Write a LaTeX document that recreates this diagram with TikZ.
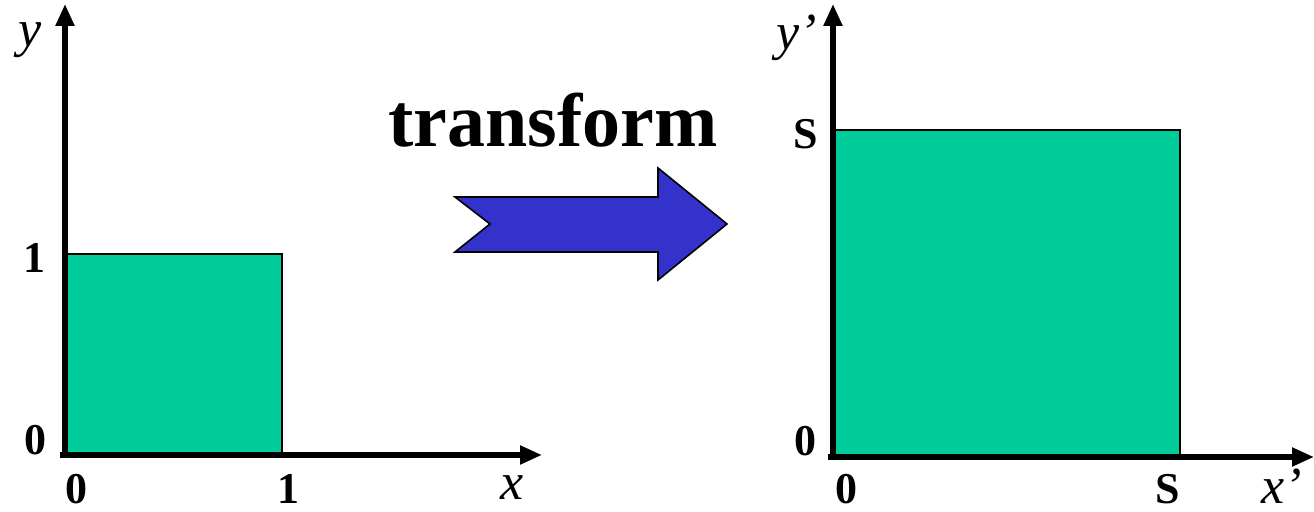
\documentclass[tikz,border=0pt]{standalone}
\usepackage{fontspec}
\setmainfont{Liberation Serif}
\usetikzlibrary{arrows.meta}
\definecolor{sqgreen}{HTML}{00CC99}
\definecolor{arrowblue}{HTML}{3333CC}

\begin{document}
\begin{tikzpicture}[x=0.5pt,y=-0.5pt,
  axis/.style={line width=2.6pt,-{Triangle[length=11pt,width=9pt]}},
  num/.style={font=\fontsize{22}{22}\selectfont\bfseries,inner sep=0pt},
  var/.style={font=\fontsize{26}{26}\selectfont\itshape,inner sep=0pt}]
  \useasboundingbox (0,0) rectangle (1314,512);
  % left: unit square
  \coordinate (o1) at (65,455);
  \coordinate (ya) at (65,4);
  \coordinate (xa) at (542,455);
  \fill[sqgreen,draw=black,line width=0.6pt] (65,254) rectangle (282,455);
  \draw[axis] (60,455) -- (xa);
  \draw[axis] (o1) -- (ya);
  \node[var] (ly) at (30,40) {y};
  \node[num] (l1) at (35,258) {1};
  \node[num] (l0) at (36,440) {0};
  \node[num] (b0) at (76,489) {0};
  \node[num] (b1) at (288,489) {1};
  \node[var] (lx) at (512,488) {x};
  % middle: transform arrow
  \node[font=\fontsize{38}{38}\selectfont\bfseries,inner sep=0pt] (tr) at (553,120) {transform};
  \filldraw[fill=arrowblue,line width=0.8pt,line join=miter]
    (455,197) -- (658,197) -- (658,168) -- (727,224) -- (658,280) -- (658,252)
    -- (455,252) -- (490,224) -- cycle;
  % right: scaled square
  \coordinate (o2) at (833,457);
  \coordinate (yb) at (833,4);
  \coordinate (xb) at (1314,457);
  \fill[sqgreen,draw=black,line width=0.6pt] (833,130) rectangle (1180,457);
  \draw[axis] (828,457) -- (xb);
  \draw[axis] (o2) -- (yb);
  \node[var] (ry) at (797,38) {y’};
  \node[num] (rs) at (806,134) {S};
  \node[num] (r0) at (805,441) {0};
  \node[num] (c0) at (846,489) {0};
  \node[num] (cs) at (1168,489) {S};
  \node[var,anchor=east] (rx) at (1302,486) {x’};
\end{tikzpicture}
\end{document}
